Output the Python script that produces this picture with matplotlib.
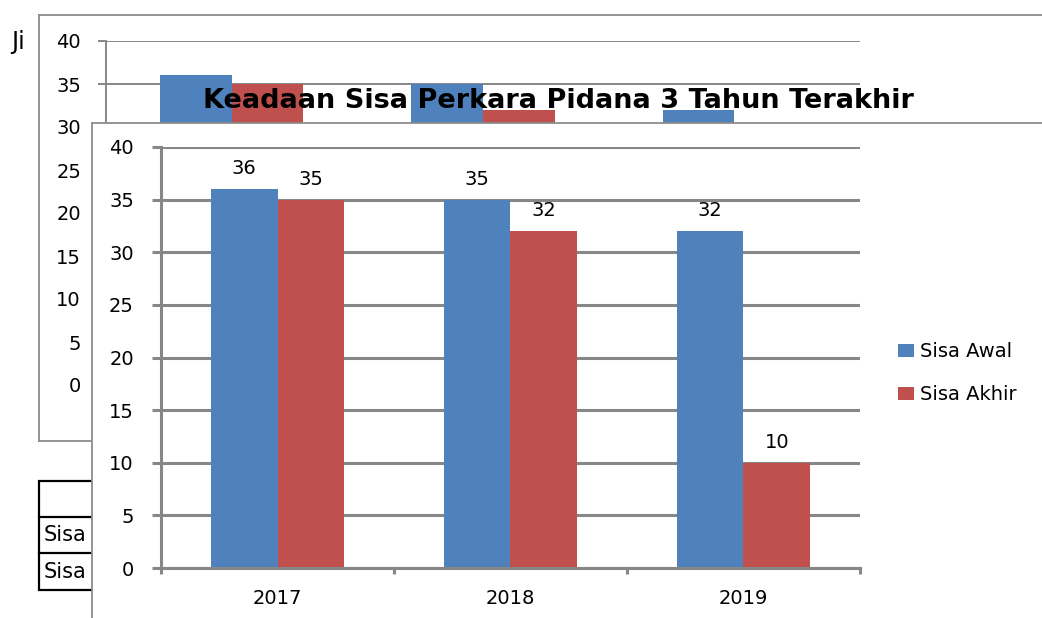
import matplotlib.pyplot as plt
from matplotlib.patches import Rectangle
from matplotlib.lines import Line2D
import numpy as np

# data
years = ["2017", "2018", "2019"]
sisa_awal = [36, 35, 32]
sisa_akhir = [35, 32, 10]
series_names = ["Sisa Awal", "Sisa Akhir"]
title = "Keadaan Sisa Perkara Pidana 3 Tahun Terakhir"

W, H = 1042, 618
BLUE, RED = "#4F81BD", "#C0504D"
GRID = "#878787"
BAR_W = 0.285
FS = 14


def box(left, top, right, bottom):
    # pixel box -> figure fraction [l, b, w, h]
    return [left / W, 1 - bottom / H, (right - left) / W, (bottom - top) / H]


def fy(y):
    return 1 - y / H


plt.rcParams["font.family"] = ["DejaVu Sans"]
fig = plt.figure(figsize=(W / 100, H / 100), dpi=100)

# leftovers of the sheet behind the charts
fig.text(11 / W, fy(42), "Ji", fontsize=17, va="center", zorder=-1)
fig.add_artist(Rectangle((39 / W, fy(590)), 200 / W, 109 / H, transform=fig.transFigure,
                         fill=False, ec="black", lw=1.6, zorder=-1))
for yy in [517, 553]:
    fig.add_artist(Line2D([39 / W, 239 / W], [fy(yy), fy(yy)], transform=fig.transFigure,
                          color="black", lw=1.6, zorder=-1))
fig.text(44 / W, fy(535), "Sisa", fontsize=15, va="center", zorder=-1)
fig.text(44 / W, fy(572), "Sisa", fontsize=15, va="center", zorder=-1)

x = np.arange(len(years))

# chart in the back (mostly hidden)
ax_bf = fig.add_axes(box(39, 15, 1100, 441))
ax_bf.set_xticks([])
ax_bf.set_yticks([])
ax_bf.spines["right"].set_visible(False)
for s in ax_bf.spines.values():
    s.set_color("#8c8c8c")
    s.set_linewidth(1.3)

ax_bg = fig.add_axes(box(106, 41, 860, 385))
ax_bg.patch.set_alpha(0)
ax_bg.bar(x - BAR_W / 2, sisa_awal, BAR_W, color=BLUE, zorder=2)
ax_bg.bar(x + BAR_W / 2, sisa_akhir, BAR_W, color=RED, zorder=2)
ax_bg.set_xlim(-0.5, 2.5)
ax_bg.set_ylim(0, 40)
ax_bg.set_yticks(range(0, 41, 5))
ax_bg.set_xticks([])
ax_bg.grid(axis="y", color=GRID, lw=1.4, zorder=0)
ax_bg.set_axisbelow(True)
for k in ["top", "right", "bottom"]:
    ax_bg.spines[k].set_visible(False)
ax_bg.spines["left"].set_color(GRID)
ax_bg.spines["left"].set_linewidth(1.4)
ax_bg.tick_params(axis="y", length=6, width=1.4, color=GRID, pad=12, labelsize=FS)
fig.text(558 / W, fy(108), title, ha="center", va="baseline", fontsize=19.5,
         fontweight="bold", zorder=1)

# chart in front
ax_ff = fig.add_axes(box(92, 123, 1100, 700))
ax_ff.set_xticks([])
ax_ff.set_yticks([])
ax_ff.spines["right"].set_visible(False)
ax_ff.spines["bottom"].set_visible(False)
for s in ax_ff.spines.values():
    s.set_color("#8c8c8c")
    s.set_linewidth(1.3)

ax = fig.add_axes(box(161, 147, 860, 568))
ax.patch.set_alpha(0)
b1 = ax.bar(x - BAR_W / 2, sisa_awal, BAR_W, color=BLUE, label=series_names[0], zorder=2)
b2 = ax.bar(x + BAR_W / 2, sisa_akhir, BAR_W, color=RED, label=series_names[1], zorder=2)
ax.bar_label(b1, padding=8, fontsize=FS)
ax.bar_label(b2, padding=8, fontsize=FS)
ax.set_xlim(-0.5, 2.5)
ax.set_ylim(0, 40)
ax.set_yticks(range(0, 41, 5))
ax.set_xticks(x)
ax.set_xticklabels(years)
ax.set_xticks(np.arange(-0.5, 3, 1), minor=True)
ax.grid(axis="y", color=GRID, lw=2.2, zorder=0)
ax.set_axisbelow(True)
for k in ["top", "right"]:
    ax.spines[k].set_visible(False)
for k in ["left", "bottom"]:
    ax.spines[k].set_color(GRID)
    ax.spines[k].set_linewidth(2.2)
ax.tick_params(axis="y", length=6.5, width=2.2, color=GRID, pad=13, labelsize=FS)
ax.tick_params(axis="x", which="major", length=0, pad=15, labelsize=FS)
ax.tick_params(axis="x", which="minor", length=4.5, width=2.2, color=GRID)

ax.legend(loc="upper left", bbox_to_anchor=(898 / W, fy(342)), bbox_transform=fig.transFigure,
          frameon=False, fontsize=FS, handlelength=0.8, handleheight=0.65,
          handletextpad=0.35, labelspacing=1.25, borderpad=0, borderaxespad=0)

fig.savefig("out.png", dpi=100)
